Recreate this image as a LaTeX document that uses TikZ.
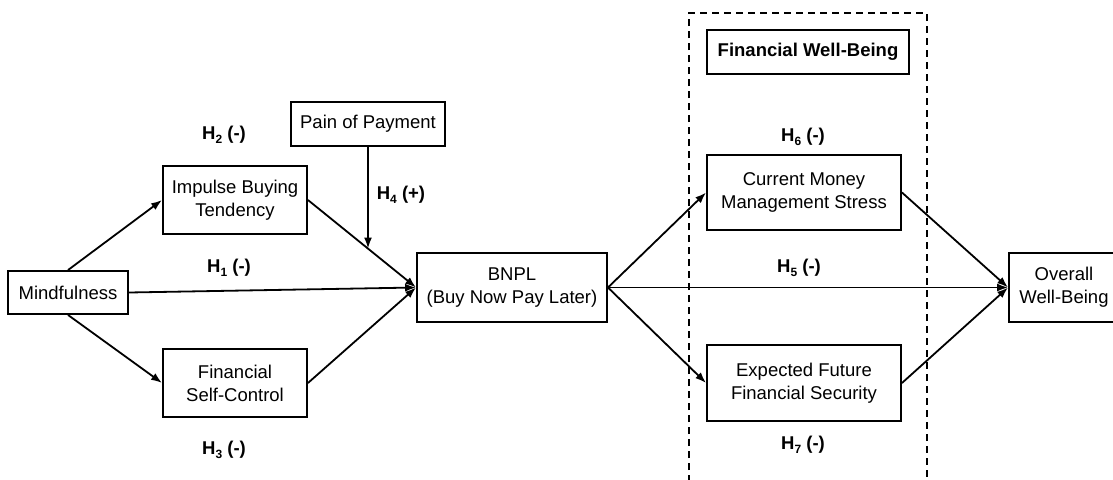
\documentclass[tikz,border=0pt]{standalone}
\usepackage{fontspec}
\setmainfont{Liberation Sans}
\usetikzlibrary{arrows.meta,calc}
\newcommand{\hsub}[1]{\raisebox{-0.45ex}{\fontsize{12}{12}\selectfont #1}}
\begin{document}
\begin{tikzpicture}[x=1pt,y=-1pt,
  box/.style={draw,line width=1.9pt,rectangle,align=center,inner sep=0pt,font=\fontsize{18.5}{23}\selectfont},
  hyp/.style={font=\bfseries\fontsize{18.5}{22}\selectfont,inner sep=0pt},
  arr/.style={line width=1.8pt,-{Latex[length=11pt,width=8pt]}},
  grp/.style={line width=1.7pt,dash pattern=on 7pt off 5pt}]
\useasboundingbox (0,0) rectangle (1113,479);
\node[box,minimum width=120pt,minimum height=43pt] (mind) at (68,292.5) {Mindfulness};
\node[box,minimum width=144pt,minimum height=68pt] (imp) at (235,200) {Impulse Buying\\Tendency};
\node[box,minimum width=144pt,minimum height=68pt] (fsc) at (235,383) {Financial\\Self-Control};
\node[box,minimum width=154pt,minimum height=44pt] (pain) at (368,124) {Pain of Payment};
\node[box,minimum width=190pt,minimum height=69pt] (bnpl) at (512,287.5) {BNPL\\(Buy Now Pay Later)};
\node[box,minimum width=202pt,minimum height=44pt,font=\bfseries\fontsize{18.5}{22}\selectfont] (fwb) at (808,52) {Financial Well-Being};
\node[box,minimum width=194pt,minimum height=75pt] (cmms) at (804,192.5) {Current Money\\Management Stress};
\node[box,minimum width=194pt,minimum height=76pt] (eff) at (804,383) {Expected Future\\Financial Security};
\node[box,minimum width=110pt,minimum height=69pt] (owb) at (1064,287.5) {Overall\\Well-Being};

\coordinate (gbl) at (689,482);
\coordinate (gtl) at (689,13);
\coordinate (gtr) at (927,13);
\coordinate (gbr) at (927,482);
\draw[grp] (gbl) -- (gtl) -- (gtr) -- (gbr);

\draw[arr] (mind.north) -- (imp.west);
\draw[arr] (mind.south) -- (fsc.west);
\draw[arr] (mind.east) -- (bnpl.west);
\draw[arr] (imp.east) -- (bnpl.west);
\draw[arr] (fsc.east) -- (bnpl.west);
\coordinate (pm) at ($(imp.east)!0.5545!(bnpl.west)$);
\draw[arr] (pain.south) -- (pain.south |- pm);
\draw[arr] (bnpl.east) -- (cmms.west);
\draw[arr] (bnpl.east) -- (eff.west);
\draw[arr] (bnpl.east) -- (owb.west);
\draw[arr] (cmms.east) -- (owb.west);
\draw[arr] (eff.east) -- (owb.west);

\node[hyp] (h1) at (229,268) {H\hsub{1} (-)};
\node[hyp] (h2) at (224,135) {H\hsub{2} (-)};
\node[hyp] (h3) at (224,450) {H\hsub{3} (-)};
\node[hyp] (h4) at (401,195) {H\hsub{4} (+)};
\node[hyp] (h5) at (799,268) {H\hsub{5} (-)};
\node[hyp] (h6) at (803,137) {H\hsub{6} (-)};
\node[hyp] (h7) at (803,445) {H\hsub{7} (-)};
\end{tikzpicture}
\end{document}
